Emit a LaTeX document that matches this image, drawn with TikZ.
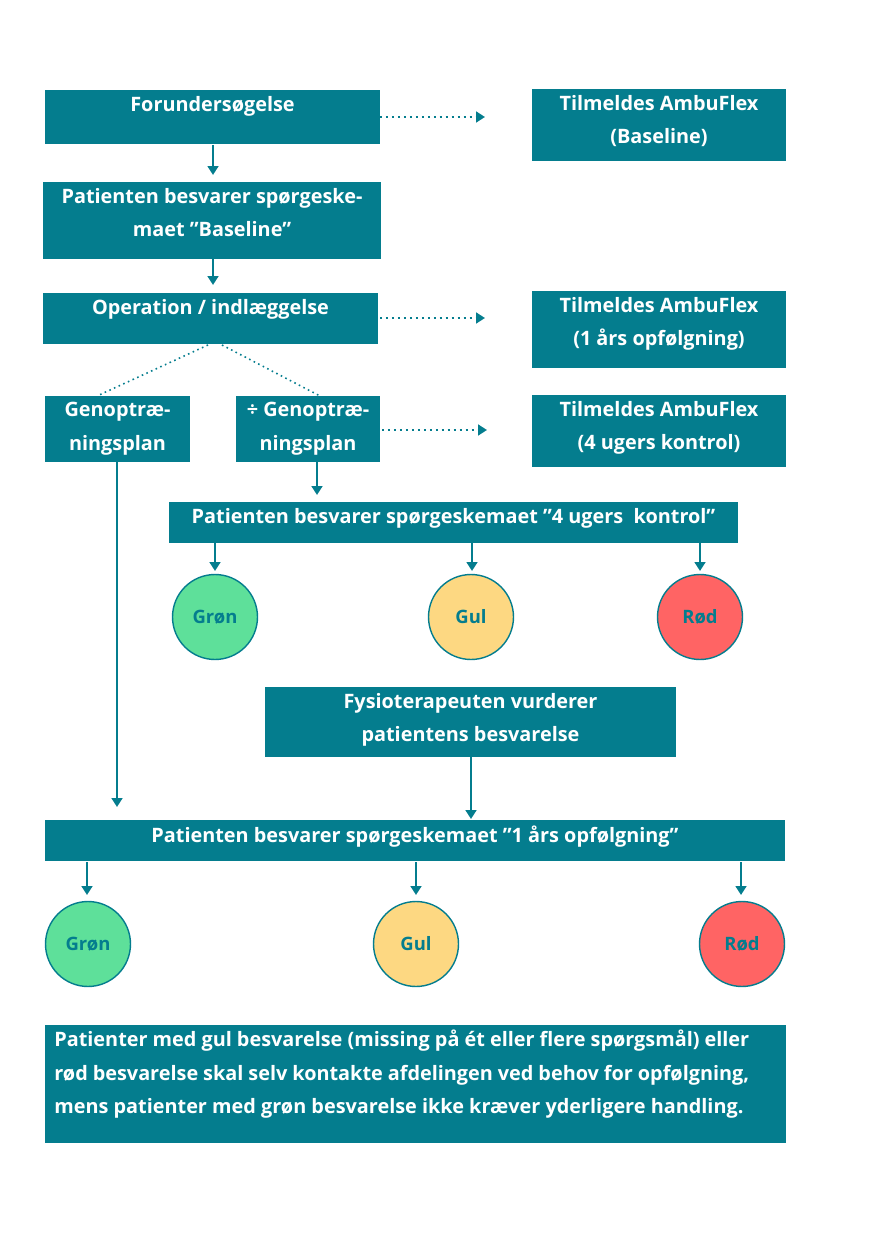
\documentclass[tikz,border=0pt]{standalone}
\usepackage{fontspec}
\setmainfont{Open Sans}
\usetikzlibrary{arrows.meta}
\definecolor{teal}{HTML}{047D8E}
\definecolor{cg}{HTML}{5EE09A}
\definecolor{cy}{HTML}{FDD882}
\definecolor{cr}{HTML}{FF6464}
\begin{document}
\begin{tikzpicture}[x=0.02cm,y=-0.02cm,
 box/.style={fill=teal,draw=none,text=white,font=\fontsize{11.3}{19}\selectfont\bfseries,align=center,inner sep=0pt},
 circ/.style={circle,draw=teal,line width=0.8pt,minimum size=1.7cm,inner sep=0pt,text=teal,font=\fontsize{10.5}{12}\selectfont\bfseries},
 arr/.style={draw=teal,line width=1.4pt,-{Triangle[length=5pt,width=6pt]}},
 dar/.style={draw=teal,line width=1.4pt,dotted,-{Triangle[length=5pt,width=6pt]}},
 dl/.style={draw=teal,line width=0.9pt,dotted}]
\useasboundingbox (0,0) rectangle (874,1240);
\fill[white] (0,0) rectangle (874,1240);
\newcommand{\bx}[6]{\fill[teal] (#2,#3) rectangle (#4,#5); \node[box,anchor=north] (#1) at ({(#2+#4)/2},#3+6) {#6};
 \coordinate (#1-t) at ({(#2+#4)/2},#3); \coordinate (#1-b) at ({(#2+#4)/2},#5);}
\bx{fu}{45}{90}{380}{144}{Forundersøgelse}
\bx{tb}{532}{89}{786}{161}{Tilmeldes AmbuFlex\\(Baseline)}
\bx{pb}{43}{182}{381}{259}{Patienten besvarer spørgeske-\\maet ”Baseline”}
\bx{op}{43}{293}{378}{344}{Operation / indlæggelse}
\bx{t1}{532}{291}{786}{368}{Tilmeldes AmbuFlex\\(1 års opfølgning)}
\bx{gp}{45}{396}{190}{462}{Genoptræ-\\ningsplan}
\bx{ng}{236}{396}{380}{462}{÷ Genoptræ-\\ningsplan}
\bx{t4}{532}{395}{786}{467}{Tilmeldes AmbuFlex\\(4 ugers kontrol)}
\bx{k4}{169}{502}{738}{543}{Patienten besvarer spørgeskemaet ”4 ugers\ \ kontrol”}
\bx{fy}{265}{687}{676}{757}{Fysioterapeuten vurderer\\patientens besvarelse}
\bx{a1}{45}{820}{785}{861}{Patienten besvarer spørgeskemaet ”1 års opfølgning”}
\fill[teal] (45,1025) rectangle (786,1143);
\node[box,anchor=north west,text width=13.9cm,align=justify] (nt) at (54,1030) {Patienter med gul besvarelse (missing på ét eller flere spørgsmål) eller rød besvarelse skal selv kontakte afdelingen ved behov for opfølgning, mens patienter med grøn besvarelse ikke kræver yderligere handling.};
\node[circ,fill=cg] (g1) at (215,617) {Grøn};
\node[circ,fill=cy] (y1) at (471,617) {Gul};
\node[circ,fill=cr] (r1) at (700,617) {Rød};
\node[circ,fill=cg] (g2) at (88,944) {Grøn};
\node[circ,fill=cy] (y2) at (416,944) {Gul};
\node[circ,fill=cr] (r2) at (742,944) {Rød};
\coordinate (d1a) at (380,117); \coordinate (d1b) at (485,117);
\coordinate (d2a) at (380,318); \coordinate (d2b) at (485,318);
\coordinate (d3a) at (382,430); \coordinate (d3b) at (487,430);
\draw[dar] (d1a)--(d1b); \draw[dar] (d2a)--(d2b); \draw[dar] (d3a)--(d3b);
\draw[dl] (208,345)--(97,396); \draw[dl] (222,345)--(320,396);
\draw[arr] (213,145)--(213,175);
\draw[arr] (213,259)--(213,285);
\draw[arr] (317,462)--(317,495);
\draw[arr] (215,543)--(215,571);
\draw[arr] (472,543)--(472,571);
\draw[arr] (700,543)--(700,571);
\draw[arr] (117,462)--(117,807);
\draw[arr] (471,757)--(471,819);
\draw[arr] (87,862)--(87,895);
\draw[arr] (416,862)--(416,895);
\draw[arr] (741,862)--(741,895);
\end{tikzpicture}
\end{document}
